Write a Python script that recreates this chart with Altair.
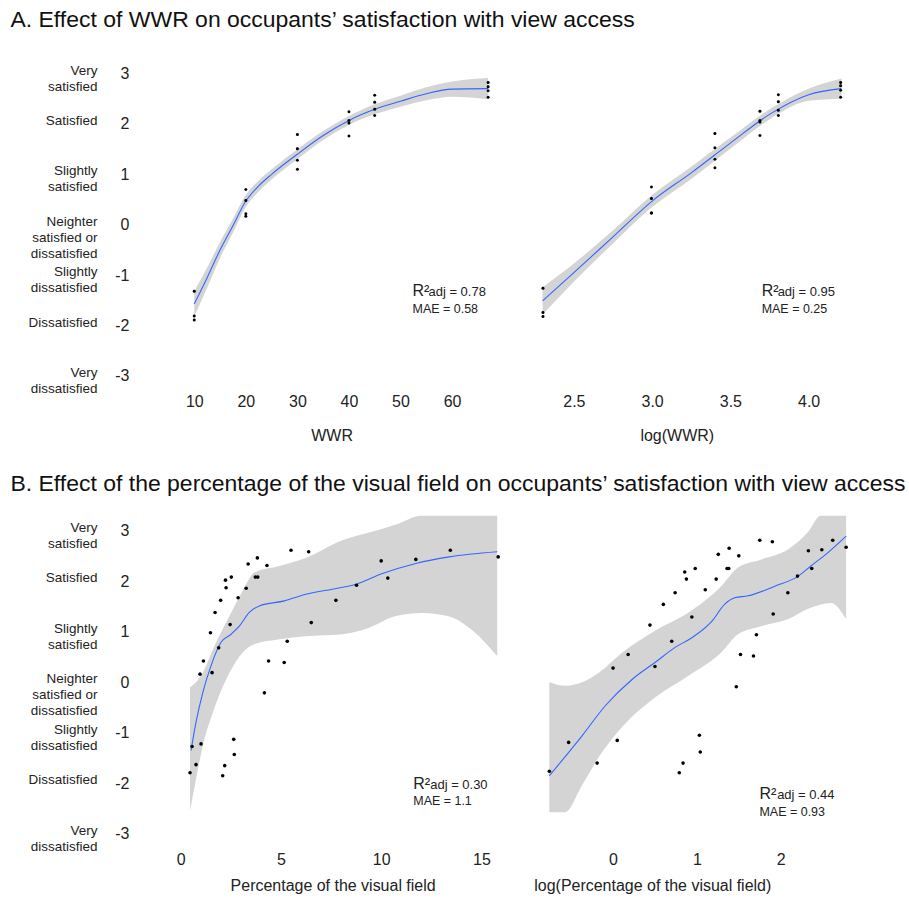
import altair as alt
import pandas as pd

FONT = "Liberation Sans, Arial, sans-serif"
BAND = "#d4d4d4"
BLUE = "#3366FF"

# ---------------- axis text ----------------
SAT_TICKS = [-3, -2, -1, 0, 1, 2, 3]
SAT_LABELS = ["Very\ndissatisfied", "Dissatisfied", "Slightly\ndissatisfied",
              "Neighter\nsatisfied or\ndissatisfied", "Slightly\nsatisfied",
              "Satisfied", "Very\nsatisfied"]

TITLE_A = "A. Effect of WWR on occupants\u2019 satisfaction with view access"
TITLE_B = ("B. Effect of the percentage of the visual field on occupants\u2019 "
           "satisfaction with view access")

R2_VALUES = ["0.78", "0.95", "0.30", "0.44"]
MAE_VALUES = ["0.58", "0.25", "1.1", "0.93"]

# ---------------- panel A data ----------------
WWR_PTS = [10, 10, 10, 20, 20, 20, 20, 30, 30, 30, 30, 40, 40, 40, 40,
           45, 45, 45, 45, 67, 67, 67, 67]
TL_SAT = [-1.32, -1.81, -1.89, 0.70, 0.48, 0.22, 0.17, 1.79, 1.51, 1.28, 1.10,
          2.24, 2.07, 2.02, 1.76, 2.57, 2.43, 2.29, 2.17, 2.82, 2.74, 2.66, 2.53]
TR_SAT = [-1.26, -1.74, -1.82, 0.75, 0.52, 0.24, 0.23, 1.81, 1.53, 1.30, 1.13,
          2.25, 2.07, 2.04, 1.77, 2.58, 2.44, 2.27, 2.17, 2.82, 2.76, 2.67, 2.53]

TL_FIT_X = [10, 12.5, 15, 17.5, 20, 22.5, 25, 30, 35, 40, 45, 50, 55, 60, 67]
TL_FIT = [-1.57, -1.05, -0.50, -0.02, 0.47, 0.77, 1.00, 1.40, 1.77, 2.07, 2.29,
          2.45, 2.60, 2.69, 2.70]
TL_LO = [-1.82, -1.25, -0.66, -0.16, 0.35, 0.66, 0.90, 1.30, 1.68, 1.98, 2.19,
         2.34, 2.47, 2.54, 2.49]
TL_HI = [-1.32, -0.85, -0.34, 0.12, 0.59, 0.88, 1.10, 1.50, 1.86, 2.16, 2.39,
         2.56, 2.73, 2.84, 2.91]

TR_FIT_X = [2.30, 2.50, 2.75, 3.00, 3.25, 3.50, 3.75, 4.00, 4.21]
TR_FIT = [-1.51, -0.95, -0.24, 0.47, 1.03, 1.62, 2.19, 2.58, 2.70]
TR_LO = [-1.78, -1.13, -0.37, 0.35, 0.91, 1.51, 2.09, 2.46, 2.50]
TR_HI = [-1.24, -0.77, -0.11, 0.59, 1.15, 1.73, 2.29, 2.70, 2.90]

# ---------------- panel B data ----------------
BL_X = [0.46, 0.56, 0.76, 1.01, 0.96, 1.13, 1.56, 1.48, 1.71, 1.89, 1.99, 2.26,
        2.23, 2.52, 2.46, 2.09, 2.19, 2.64, 2.67, 2.86, 3.26, 3.36, 3.72, 3.84,
        3.82, 4.30, 4.17, 4.38, 5.16, 5.31, 5.50, 6.38, 6.51, 7.74, 8.77, 10.0,
        10.33, 11.73, 13.45, 15.84]
BL_Y = [-1.79, -1.27, -1.63, -1.22, 0.16, 0.42, 0.19, 0.98, 1.38, 0.68, 1.62,
        1.87, 2.02, 2.08, 1.14, -1.85, -1.65, -1.13, -1.43, 1.67, 1.86, 2.34,
        2.08, 2.08, 2.46, 2.31, -0.21, 0.42, 0.39, 0.81, 2.61, 2.58, 1.18, 1.62,
        1.92, 2.40, 2.06, 2.43, 2.61, 2.48]
BR_X = [-0.76, -0.53, -0.19, 0.05, 0.00, 0.18, 0.50, 0.44, 0.60, 0.70, 0.74,
        0.875, 0.855, 0.98, 0.94, 0.79, 0.835, 1.03, 1.04, 1.10, 1.23, 1.255,
        1.36, 1.38, 1.385, 1.50, 1.47, 1.52, 1.675, 1.71, 1.75, 1.90, 1.91,
        2.085, 2.20, 2.33, 2.37, 2.49, 2.62, 2.78]
BR_Y = [-1.76, -1.19, -1.60, -1.15, 0.28, 0.55, 0.31, 1.13, 1.54, 0.81, 1.77,
        2.04, 2.18, 2.25, 1.29, -1.79, -1.60, -1.05, -1.38, 1.83, 2.04, 2.53,
        2.25, 2.25, 2.65, 2.50, -0.09, 0.55, 0.52, 0.94, 2.81, 2.78, 1.35, 1.77,
        2.10, 2.60, 2.25, 2.62, 2.81, 2.67]

BL_FIT_X = [0.51, 0.76, 1.10, 1.51, 2.01, 2.51, 2.92, 3.42, 3.92, 5.17, 6.24,
            7.82, 8.74, 10.06, 11.73, 13.39, 15.79]
BL_FIT = [-1.35, -0.79, -0.20, 0.33, 0.79, 0.95, 1.11, 1.38, 1.51, 1.61, 1.74,
          1.86, 1.94, 2.15, 2.35, 2.48, 2.58]
BL_BAND_X = [0.46, 0.76, 1.10, 1.60, 2.43, 3.09, 3.67, 4.92, 6.24, 8.07, 9.40,
             10.73, 12.06, 13.40, 14.60, 15.79]
BL_LO = [-2.54, -1.91, -1.25, -0.60, 0.19, 0.59, 0.75, 0.85, 0.91, 0.95, 1.08,
         1.31, 1.37, 1.30, 1.01, 0.52]
BL_HI = [-0.10, 0.00, 0.19, 0.65, 1.31, 1.81, 2.17, 2.30, 2.46, 2.81, 2.96,
         3.12, 3.30, 3.30, 3.30, 3.30]

BR_FIT_X = [-0.76, -0.37, -0.09, 0.23, 0.50, 0.74, 0.94, 1.18, 1.33, 1.45, 1.61,
            1.93, 2.21, 2.36, 2.56, 2.78]
BR_FIT = [-1.85, -1.06, -0.46, 0.06, 0.39, 0.69, 0.88, 1.21, 1.54, 1.67, 1.71,
          1.90, 2.10, 2.30, 2.56, 2.89]
BR_BAND_X = [-0.76, -0.57, -0.37, -0.17, 0.11, 0.50, 0.90, 1.29, 1.49, 1.77,
             2.09, 2.32, 2.48, 2.60, 2.78]
BR_LO = [-2.57, -2.57, -2.04, -1.48, -0.88, -0.30, 0.13, 0.59, 0.95, 1.11, 1.25,
         1.45, 1.54, 1.57, 1.25]
BR_HI = [0.00, -0.07, 0.00, 0.19, 0.59, 1.02, 1.38, 1.90, 2.27, 2.43, 2.63, 2.96,
         3.30, 3.30, 3.30]

Y_DOMAIN = [-3.3, 3.3]


def panel(px, py, fx, fy, bx, blo, bhi, xdom, xvals, xfmt, xtitle, title_x,
          width, height, show_y, idx, ann, calc_log=False, dot=10, tpad=10):
    xscale = alt.Scale(domain=xdom, nice=False, zero=False)
    yscale = alt.Scale(domain=Y_DOMAIN, nice=False, zero=False)
    xaxis = alt.Axis(values=xvals, format=xfmt, title=xtitle, grid=False,
                     ticks=False, domain=False, labelFont=FONT, labelFontSize=16,
                     labelColor="#222222", labelPadding=2, titleFont=FONT,
                     titleFontSize=16, titleFontWeight="normal",
                     titleColor="#222222", titlePadding=tpad, titleX=title_x)
    if show_y:
        yaxis = alt.Axis(values=SAT_TICKS, title=None, grid=False, ticks=False,
                         domain=False, labelFont=FONT, labelFontSize=16,
                         labelColor="#222222", labelPadding=50,
                         labelExpr="'' + datum.value")
    else:
        yaxis = None

    band_df = pd.DataFrame({"x": bx, "lo": blo, "hi": bhi})
    fit_df = pd.DataFrame({"x": fx, "fit": fy})
    pts_df = pd.DataFrame({"x": px, "y": py})

    band = alt.Chart(band_df).mark_area(color=BAND, opacity=1, clip=True,
                                        interpolate="monotone").encode(
        x=alt.X("x:Q", scale=xscale, axis=xaxis),
        y=alt.Y("lo:Q", scale=yscale, axis=yaxis),
        y2="hi:Q")
    line = alt.Chart(fit_df).mark_line(color=BLUE, strokeWidth=1.1,
                                       interpolate="monotone").encode(
        x="x:Q", y="fit:Q")
    pbase = alt.Chart(pts_df)
    if calc_log:
        pbase = pbase.transform_calculate(lx="log(datum.x)")
        xf = "lx:Q"
    else:
        xf = "x:Q"
    pts = pbase.mark_circle(color="black", size=dot, opacity=1).encode(
        x=xf, y="y:Q")

    ax, ay, adx, my = ann
    r2 = alt.Chart(pd.DataFrame({"t": ["R\u00b2"]})).mark_text(
        align="left", baseline="alphabetic", font=FONT, fontSize=16,
        color="#222222").encode(text="t:N", x=alt.value(ax), y=alt.value(ay))
    adj = alt.Chart(pd.DataFrame({"t": ["adj = " + R2_VALUES[idx]]})).mark_text(
        align="left", baseline="alphabetic", font=FONT, fontSize=13,
        color="#222222").encode(text="t:N", x=alt.value(ax + adx), y=alt.value(ay))
    mae = alt.Chart(pd.DataFrame({"t": ["MAE = " + MAE_VALUES[idx]]})).mark_text(
        align="left", baseline="alphabetic", font=FONT, fontSize=12.5,
        color="#222222").encode(text="t:N", x=alt.value(ax), y=alt.value(my))

    layers = [band, line, pts, r2, adj, mae]
    if show_y:
        lab_df = pd.DataFrame({"v": SAT_TICKS, "lab": SAT_LABELS})
        labs = alt.Chart(lab_df).mark_text(
            align="right", baseline="middle", lineBreak="\n", lineHeight=16,
            font=FONT, fontSize=13.5, color="#222222", dy=-3).encode(
            x=alt.value(-81.5), y=alt.Y("v:Q"), text="lab:N")
        layers.append(labs)
    return alt.layer(*layers).properties(width=width, height=height)


tl = panel(WWR_PTS, TL_SAT, TL_FIT_X, TL_FIT, TL_FIT_X, TL_LO, TL_HI,
           [7, 69], [10, 20, 30, 40, 50, 60], "d", "WWR", 153, 320, 333, True, 0,
           (234, 238, 16, 254.5), dot=9, tpad=18)
tr = panel(WWR_PTS, TR_SAT, TR_FIT_X, TR_FIT, TR_FIT_X, TR_LO, TR_HI,
           [2.2, 4.3], [2.5, 3.0, 3.5, 4.0], ".1f", "log(WWR)", 150, 329, 333,
           False, 1, (235, 238, 16, 254.5), calc_log=True, dot=9, tpad=18)
bl = panel(BL_X, BL_Y, BL_FIT_X, BL_FIT, BL_BAND_X, BL_LO, BL_HI,
           [-0.1, 16.6], [0, 5, 10, 15], "d", "Percentage of the visual field",
           154, 335, 334, True, 2, (234.7, 273.6, 17, 290.2), dot=13)
br = panel(BR_X, BR_Y, BR_FIT_X, BR_FIT, BR_BAND_X, BR_LO, BR_HI,
           [-0.95, 2.97], [0, 1, 2], "d", "log(Percentage of the visual field)",
           119, 329, 334, False, 3, (226.3, 284.2, 17.7, 300.9), dot=13)

row_a = alt.hconcat(tl, tr, spacing=28.5, title=alt.TitleParams(
    text=TITLE_A, anchor="start", font=FONT, fontSize=23, fontWeight="normal",
    color="#111111", offset=26.5, dx=-18))
row_b = alt.hconcat(bl, br, spacing=20, title=alt.TitleParams(
    text=TITLE_B, anchor="start", font=FONT, fontSize=23, fontWeight="normal",
    color="#111111", offset=19.5, dx=-18))

chart = alt.vconcat(row_a, row_b, spacing=29.5).properties(
    padding={"left": 10, "top": 8, "right": 2, "bottom": 2},
    background="white",
).configure_view(strokeWidth=0)

chart.save("out.html", embed_options={"renderer": "svg", "actions": False})
